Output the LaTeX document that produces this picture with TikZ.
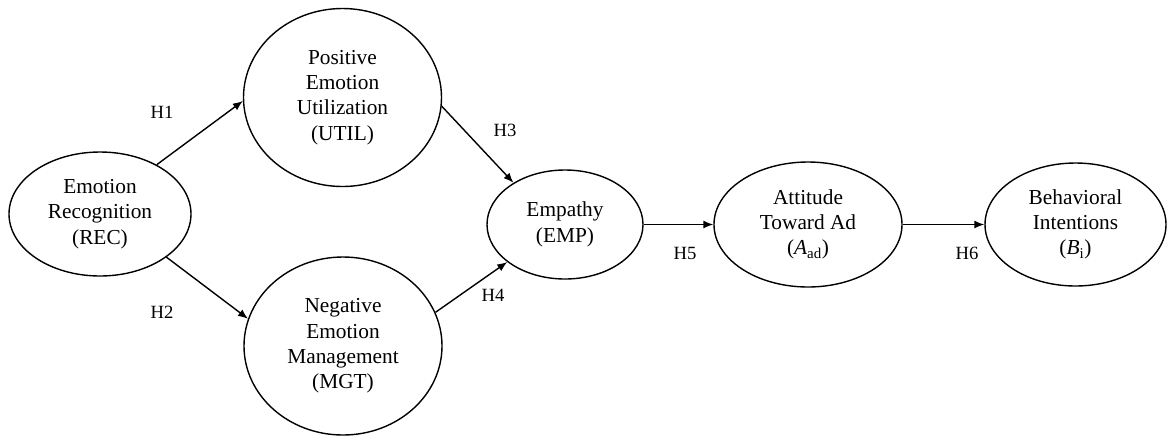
\documentclass[tikz,border=0pt]{standalone}
\usepackage{fontspec}
\setmainfont{Liberation Serif}
\usetikzlibrary{shapes.geometric,arrows.meta}
\begin{document}
\begin{tikzpicture}[x=0.75pt,y=-0.75pt,
  construct/.style={ellipse,draw,line width=1.05pt,inner sep=0pt,align=center,
    font=\fontsize{16pt}{19pt}\selectfont},
  arr/.style={line width=1.05pt,-{Latex[length=7.5pt,width=6pt]}},
  hyp/.style={font=\fontsize{14pt}{16pt}\selectfont,inner sep=0pt}]
\useasboundingbox (0,0) rectangle (1167,437);
\node[construct,minimum width=136.5pt,minimum height=93pt] (rec) at (100,214)
  {Emotion\\Recognition\\(REC)};
\node[construct,minimum width=148.5pt,minimum height=133.5pt] (util) at (342.5,97.5)
  {Positive\\Emotion\\Utilization\\(UTIL)};
\node[construct,minimum width=148.5pt,minimum height=133.5pt] (mgt) at (343,346)
  {Negative\\Emotion\\Management\\(MGT)};
\node[construct,minimum width=117pt,minimum height=81.75pt] (emp) at (565,224.5)
  {Empathy\\(EMP)};
\node[construct,minimum width=141pt,minimum height=93.75pt] (att) at (808,224.5)
  {Attitude\\Toward Ad\\({\itshape A}\textsubscript{ad})};
\node[construct,minimum width=135.75pt,minimum height=92.25pt] (beh) at (1075.5,224.5)
  {Behavioral\\Intentions\\({\itshape B}\textsubscript{i})};
\draw[arr] (rec.41) -- (util.182);
\draw[arr] (rec.-33) -- (mgt.164);
\draw[arr] (util.-5) -- (emp.141);
\draw[arr] (mgt.20) -- (emp.213);
\draw[arr] (emp.east) -- (att.west);
\draw[arr] (att.east) -- (beh.west);
\node[hyp] (h1) at (162,112) {H1};
\node[hyp] (h2) at (162,312) {H2};
\node[hyp] (h3) at (505,130) {H3};
\node[hyp] (h4) at (493,295) {H4};
\node[hyp] (h5) at (685,253) {H5};
\node[hyp] (h6) at (967,253) {H6};
\end{tikzpicture}
\end{document}
